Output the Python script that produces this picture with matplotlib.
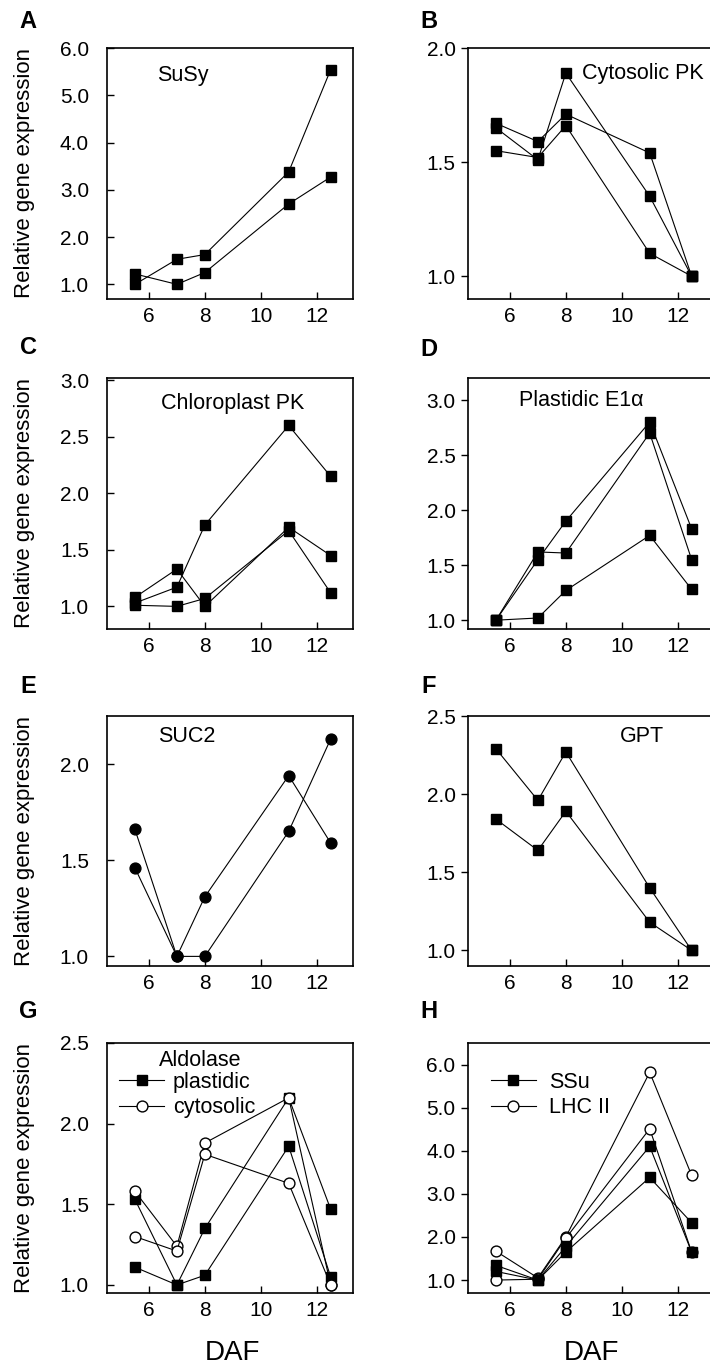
# Relative gene expression over seed development (DAF), panels A-H
import matplotlib
matplotlib.use("Agg")
import matplotlib.pyplot as plt
from matplotlib.ticker import FormatStrFormatter

plt.rcParams['font.family'] = ['Liberation Sans', 'DejaVu Sans']

days = [5.5, 7, 8, 11, 12.5]

# A - SuSy
susy_1 = [1.00, 1.53, 1.63, 3.38, 5.54]
susy_2 = [1.22, 1.00, 1.25, 2.70, 3.27]

# B - cytosolic PK
cyto_pk_1 = [1.65, 1.51, 1.89, 1.35, 1.00]
cyto_pk_2 = [1.67, 1.59, 1.71, 1.54, 1.00]
cyto_pk_3 = [1.55, 1.52, 1.66, 1.10, 1.00]

# C - chloroplast PK
chloro_pk_1 = [1.03, 1.17, 1.72, 2.60, 2.15]
chloro_pk_2 = [1.08, 1.33, 1.00, 1.70, 1.45]
chloro_pk_3 = [1.01, 1.00, 1.07, 1.67, 1.12]

# D - plastidic E1alpha
e1a_1 = [1.00, 1.55, 1.90, 2.80, 1.83]
e1a_2 = [1.00, 1.62, 1.61, 2.70, 1.55]
e1a_3 = [1.00, 1.02, 1.27, 1.77, 1.28]

# E - SUC2
suc2_1 = [1.66, 1.00, 1.31, 1.94, 1.59]
suc2_2 = [1.46, 1.00, 1.00, 1.65, 2.13]

# F - GPT
gpt_1 = [2.29, 1.96, 2.27, 1.40, 1.00]
gpt_2 = [1.84, 1.64, 1.89, 1.18, 1.00]

# G - aldolase
ald_plast_1 = [1.53, 1.00, 1.35, 2.16, 1.47]
ald_plast_2 = [1.11, 1.00, 1.06, 1.86, 1.05]
ald_cyto_1 = [1.58, 1.24, 1.88, 2.16, 1.00]
ald_cyto_2 = [1.30, 1.21, 1.81, 1.63, 1.00]

# H - SSu / LHC II
ssu_1 = [1.34, 1.00, 1.78, 4.10, 1.65]
ssu_2 = [1.20, 1.00, 1.65, 3.38, 2.33]
lhc_1 = [1.67, 1.05, 2.00, 5.82, 3.43]
lhc_2 = [1.00, 1.02, 1.97, 4.51, 1.65]

W, H = 710, 1368
TICK_FS = 15
LABEL_FS = 15.5


def px_axes(fig, x0, y0, x1, y1):
    return fig.add_axes([x0 / W, 1 - y1 / H, (x1 - x0) / W, (y1 - y0) / H])


def style_axes(ax, ylim, yticks, right_col):
    ax.set_xlim(4.5, 13.3)
    ax.set_ylim(*ylim)
    ax.set_xticks([6, 8, 10, 12])
    ax.set_yticks(yticks)
    ax.yaxis.set_major_formatter(FormatStrFormatter('%.1f'))
    ax.tick_params(axis='x', direction='in', length=5, width=1, pad=6, labelsize=TICK_FS)
    if right_col:
        ax.tick_params(axis='y', direction='out', length=5, width=1, pad=4, labelsize=TICK_FS)
    else:
        ax.tick_params(axis='y', direction='in', length=5, width=1, pad=13, labelsize=TICK_FS)
    for s in ax.spines.values():
        s.set_linewidth(1.2)


def series(ax, y, marker='s', filled=True, label=None):
    ms = 6.8 if marker == 's' else 7.8
    line, = ax.plot(days, y, '-', color='k', lw=0.8, marker=marker, ms=ms,
                    mfc='k' if filled else 'white', mec='k', mew=1.0, label=label)
    return line


def main():
    fig = plt.figure(figsize=(W / 100, H / 100), dpi=100)

    left = (107, 353)
    right = (468, 714)
    rows = [(48, 299), (378, 629), (716, 966), (1043, 1293)]

    axA = px_axes(fig, left[0], rows[0][0], left[1], rows[0][1])
    axB = px_axes(fig, right[0], rows[0][0], right[1], rows[0][1])
    axC = px_axes(fig, left[0], rows[1][0], left[1], rows[1][1])
    axD = px_axes(fig, right[0], rows[1][0], right[1], rows[1][1])
    axE = px_axes(fig, left[0], rows[2][0], left[1], rows[2][1])
    axF = px_axes(fig, right[0], rows[2][0], right[1], rows[2][1])
    axG = px_axes(fig, left[0], rows[3][0], left[1], rows[3][1])
    axH = px_axes(fig, right[0], rows[3][0], right[1], rows[3][1])

    # A
    for s in [susy_1, susy_2]:
        series(axA, s)
    style_axes(axA, (0.69, 6.0), [1, 2, 3, 4, 5, 6], False)
    axA.text(0.31, 0.89, 'SuSy', transform=axA.transAxes, ha='center', va='center', fontsize=LABEL_FS)

    # B
    for s in [cyto_pk_1, cyto_pk_2, cyto_pk_3]:
        series(axB, s)
    style_axes(axB, (0.9, 2.0), [1.0, 1.5, 2.0], True)
    axB.text(0.463, 0.90, 'Cytosolic PK', transform=axB.transAxes, ha='left', va='center', fontsize=LABEL_FS)

    # C
    for s in [chloro_pk_1, chloro_pk_2, chloro_pk_3]:
        series(axC, s)
    style_axes(axC, (0.8, 3.02), [1.0, 1.5, 2.0, 2.5, 3.0], False)
    axC.text(0.51, 0.90, 'Chloroplast PK', transform=axC.transAxes, ha='center', va='center', fontsize=LABEL_FS)

    # D
    for s in [e1a_1, e1a_2, e1a_3]:
        series(axD, s)
    style_axes(axD, (0.92, 3.2), [1.0, 1.5, 2.0, 2.5, 3.0], True)
    axD.text(0.207, 0.91, 'Plastidic E1α', transform=axD.transAxes, ha='left', va='center', fontsize=LABEL_FS)

    # E
    for s in [suc2_1, suc2_2]:
        series(axE, s, marker='o')
    style_axes(axE, (0.95, 2.25), [1.0, 1.5, 2.0], False)
    axE.text(0.325, 0.916, 'SUC2', transform=axE.transAxes, ha='center', va='center', fontsize=LABEL_FS)

    # F
    for s in [gpt_1, gpt_2]:
        series(axF, s)
    style_axes(axF, (0.9, 2.5), [1.0, 1.5, 2.0, 2.5], True)
    axF.text(0.707, 0.92, 'GPT', transform=axF.transAxes, ha='center', va='center', fontsize=LABEL_FS)

    # G
    hp = series(axG, ald_plast_1)
    series(axG, ald_plast_2)
    hc = series(axG, ald_cyto_1, marker='o', filled=False)
    series(axG, ald_cyto_2, marker='o', filled=False)
    style_axes(axG, (0.95, 2.5), [1.0, 1.5, 2.0, 2.5], False)
    axG.text(0.378, 0.928, 'Aldolase', transform=axG.transAxes, ha='center', va='center', fontsize=LABEL_FS)
    axG.legend([hp, hc], ['plastidic', 'cytosolic'], loc='upper left', bbox_to_anchor=(0.049, 0.885),
               frameon=False, fontsize=LABEL_FS, handlelength=2.1, handletextpad=0.4,
               labelspacing=0.2, borderpad=0, borderaxespad=0)

    # H
    hl = series(axH, lhc_1, marker='o', filled=False)
    series(axH, lhc_2, marker='o', filled=False)
    hs = series(axH, ssu_1)
    series(axH, ssu_2)
    style_axes(axH, (0.7, 6.5), [1, 2, 3, 4, 5, 6], True)
    axH.legend([hs, hl], ['SSu', 'LHC II'], loc='upper left', bbox_to_anchor=(0.093, 0.885),
               frameon=False, fontsize=LABEL_FS, handlelength=2.1, handletextpad=0.6,
               labelspacing=0.2, borderpad=0, borderaxespad=0)

    # panel letters
    letters = ['A', 'B', 'C', 'D', 'E', 'F', 'G', 'H']
    letter_pos = [(28, 21), (429, 21), (28, 348), (429, 350),
                  (28, 687), (429, 687), (28, 1011), (429, 1012)]
    for let, (x, y) in zip(letters, letter_pos):
        fig.text(x / W, 1 - y / H, let, fontsize=17, fontweight='bold', ha='center', va='center')

    # y labels on left column
    for (y0, y1) in rows:
        fig.text(25 / W, 1 - (y0 + y1) / 2 / H, 'Relative gene expression', rotation=90,
                 ha='center', va='center', fontsize=16)

    # x labels
    fig.text(232 / W, 1 - 1353 / H, 'DAF', ha='center', va='center', fontsize=20)
    fig.text(591 / W, 1 - 1353 / H, 'DAF', ha='center', va='center', fontsize=20)

    fig.savefig('out.png', dpi=100)


if __name__ == "__main__":
    main()
